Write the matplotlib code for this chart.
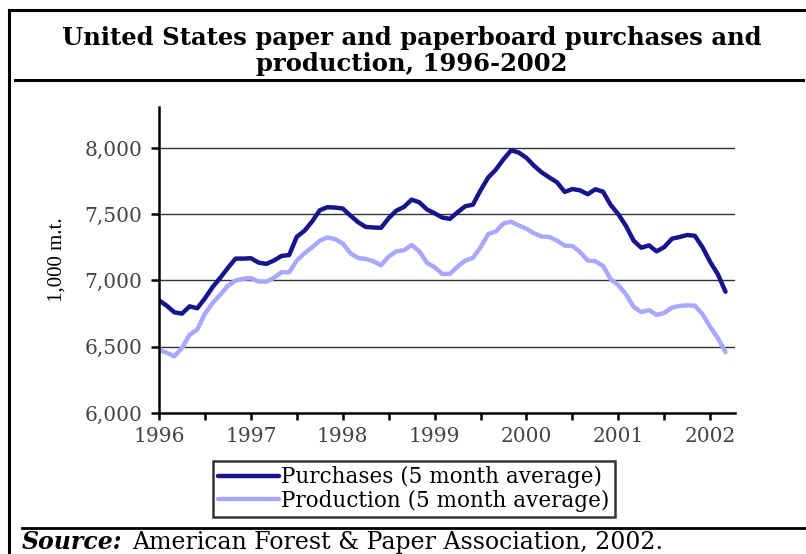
import matplotlib
matplotlib.use("Agg")
from matplotlib import pyplot as plt
from matplotlib.lines import Line2D
import numpy as np

# monthly values, Jan 1996 - Mar 2002 (1,000 metric tons, 5 month average)
purchases = [
    6850, 6810, 6760, 6750, 6805, 6790, 6865, 6950, 7020, 7095, 7165, 7165,
    7168, 7135, 7125, 7150, 7185, 7192, 7330, 7375, 7445, 7530, 7553, 7550,
    7543, 7490, 7440, 7404, 7400, 7397, 7470, 7527, 7555, 7610, 7590, 7536,
    7507, 7475, 7465, 7515, 7560, 7572, 7680, 7777, 7836, 7915, 7982, 7965,
    7925, 7865, 7815, 7777, 7740, 7668, 7690, 7680, 7651, 7688, 7670, 7570,
    7500, 7411, 7300, 7247, 7265, 7220, 7252, 7315, 7328, 7343, 7337, 7250,
    7140, 7047, 6915,
]
production = [
    6475, 6455, 6428, 6490, 6590, 6630, 6750, 6830, 6893, 6960, 7000, 7013,
    7018, 6992, 6990, 7020, 7062, 7062, 7150, 7205, 7250, 7300, 7325, 7312,
    7280, 7205, 7170, 7162, 7145, 7115, 7180, 7220, 7228, 7268, 7220, 7133,
    7100, 7050, 7050, 7105, 7150, 7170, 7250, 7350, 7370, 7430, 7443, 7415,
    7390, 7355, 7332, 7328, 7300, 7263, 7260, 7215, 7150, 7145, 7110, 7010,
    6965, 6895, 6800, 6762, 6777, 6740, 6755, 6795, 6808, 6812, 6810, 6745,
    6650, 6565, 6460,
]
years = [1996, 1997, 1998, 1999, 2000, 2001, 2002]
yticks = [6000, 6500, 7000, 7500, 8000]

t = 1996 + np.arange(len(purchases)) / 12.0

W, H = 806, 554
fig = plt.figure(figsize=(W / 100, H / 100), dpi=100)
ax = fig.add_axes([159 / W, 1 - 413 / H, (735 - 159) / W, (413 - 107) / H])

l1, = ax.plot(t, purchases, color="#16168c", lw=3.2, solid_capstyle="round",
              label="Purchases (5 month average)")
l2, = ax.plot(t, production, color="#a8a8ff", lw=3.2, solid_capstyle="round",
              label="Production (5 month average)")

ax.set_xlim(1996, 2002.27)
ax.set_ylim(6000, 8309)
ax.set_xticks(years)
ax.set_xticks([y + 0.5 for y in years[:-1]], minor=True)
ax.set_yticks(yticks)
ax.set_xticklabels([str(y) for y in years])
ax.set_yticklabels([f"{v:,}" for v in yticks])

for v in yticks[1:]:
    ax.axhline(v, color="#333333", lw=1.0, zorder=0)

for s in ["top", "right"]:
    ax.spines[s].set_visible(False)
for s in ["left", "bottom"]:
    ax.spines[s].set_linewidth(1.8)
    ax.spines[s].set_color("black")

ax.tick_params(axis="both", which="both", direction="out", width=1.8,
               colors="black", labelcolor="#444444")
ax.tick_params(axis="x", which="major", length=5, pad=5)
ax.tick_params(axis="x", which="minor", length=5)
ax.tick_params(axis="y", length=6, pad=6)
for lab in ax.get_xticklabels() + ax.get_yticklabels():
    lab.set_family("DejaVu Serif")
    lab.set_fontsize(14.5)

ax.set_ylabel("1,000 m.t.", family="Liberation Serif", fontsize=15)
ax.yaxis.set_label_coords(-0.16, 0.5)

leg = fig.legend(handles=[l1, l2], loc="upper left",
                 bbox_to_anchor=(213 / W, 1 - 461 / H),
                 prop={"family": "DejaVu Serif", "size": 15.5},
                 frameon=True, fancybox=False, handlelength=2.8,
                 handletextpad=0.1, borderpad=0.25, labelspacing=0.06,
                 borderaxespad=0)
leg.get_frame().set_edgecolor("black")
leg.get_frame().set_linewidth(1.8)

fig.text(412 / W, 1 - 51 / H,
         "United States paper and paperboard purchases and\nproduction, 1996-2002",
         ha="center", va="center", family="DejaVu Serif", fontweight="bold",
         fontsize=17.5, linespacing=1.15)

# frame lines
fig.add_artist(Line2D([9 / W, 9 / W], [0, 1 - 10 / H], color="black", lw=2.2,
                      transform=fig.transFigure))
fig.add_artist(Line2D([9 / W, 1], [1 - 10 / H, 1 - 10 / H], color="black",
                      lw=2.2, transform=fig.transFigure))
fig.add_artist(Line2D([15 / W, 803 / W], [1 - 80 / H, 1 - 80 / H],
                      color="black", lw=2.2, transform=fig.transFigure))
fig.add_artist(Line2D([22 / W, 1], [1 - 528 / H, 1 - 528 / H],
                      color="black", lw=2.0, transform=fig.transFigure))

fig.text(22 / W, 1 - 549 / H, "Source:", family="DejaVu Serif",
         fontweight="bold", style="italic", fontsize=17, va="baseline")
fig.text(132 / W, 1 - 549 / H, "American Forest & Paper Association, 2002.",
         family="DejaVu Serif", fontsize=17, va="baseline")

fig.savefig("out.png", dpi=100)
